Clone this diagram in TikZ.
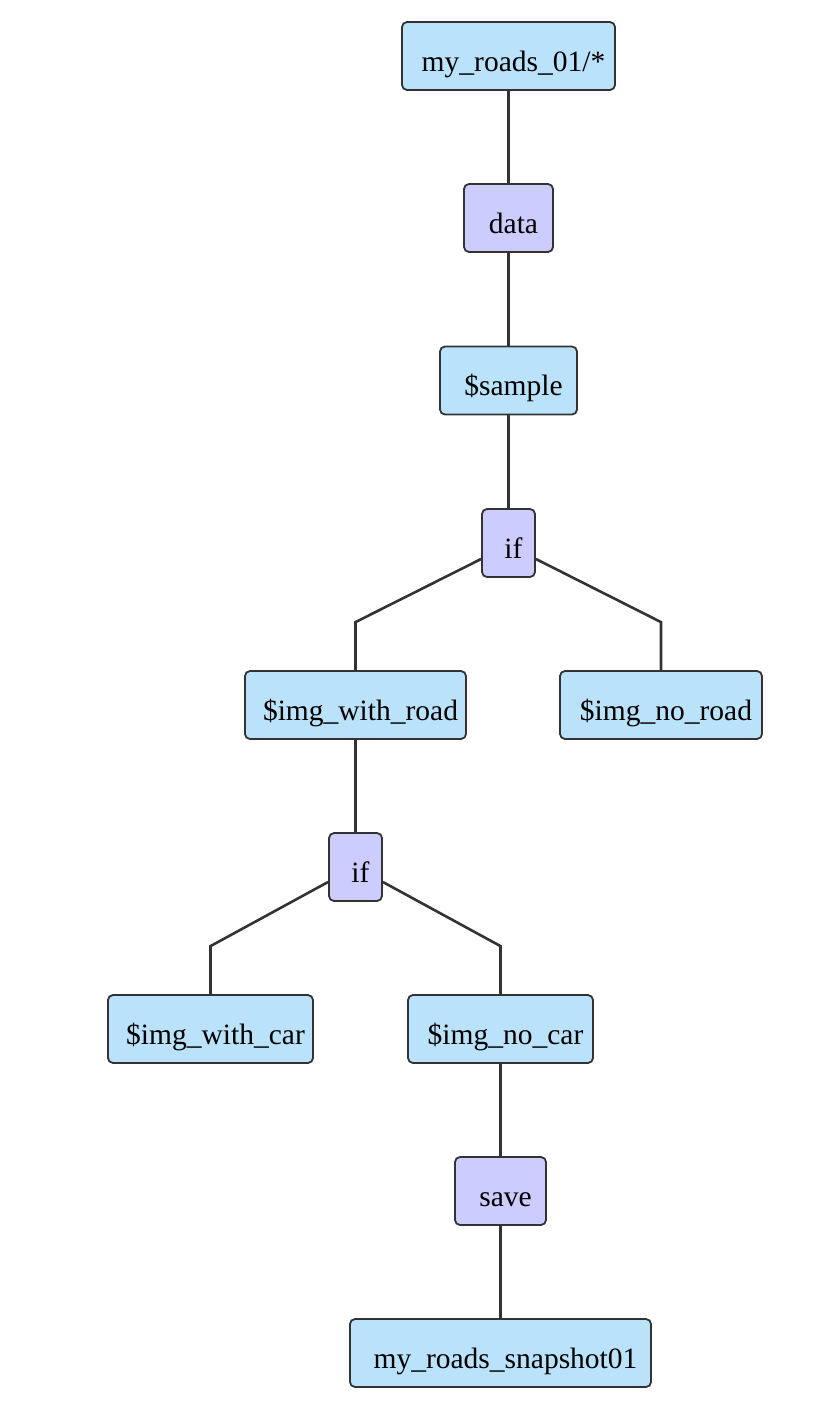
\documentclass[tikz,border=0pt]{standalone}
\usepackage{fontspec}
\setmainfont{Liberation Serif}
\usepackage{xcolor}
\definecolor{varblue}{RGB}{187,226,251}
\definecolor{oplilac}{RGB}{204,204,255}
\definecolor{edge}{RGB}{51,51,51}

\tikzset{
  box/.style={draw=edge, line width=1.8pt, rounded corners=5pt,
              minimum height=68pt, inner xsep=0pt, inner ysep=0pt,
              text height=30pt, text depth=0pt,
              font=\fontsize{29.5}{34}\selectfont,
              execute at begin node=\hspace*{10pt}},
  varbox/.style={box, fill=varblue},
  opbox/.style={box, fill=oplilac},
  link/.style={draw=edge, line width=2.6pt}
}

\begin{document}
\begin{tikzpicture}[x=1pt, y=-1pt]
  \useasboundingbox (0,0) rectangle (820,1422);

  % main chain
  \node[varbox, minimum width=213pt] (src)    at (508.5,56)   {my\_roads\_01/*};
  \node[opbox,  minimum width=89pt]  (data)   at (508.5,218)  {data};
  \node[varbox, minimum width=137pt] (sample) at (508.5,380.5){\$sample};
  \node[opbox,  minimum width=53pt]  (ifroad) at (508.5,543)  {if};

  % road split
  \node[varbox, minimum width=221pt] (withroad) at (355.5,705) {\$img\_with\_road};
  \node[varbox, minimum width=202pt] (noroad)   at (661,705)   {\$img\_no\_road};
  \node[opbox,  minimum width=53pt]  (ifcar)    at (355.5,867) {if};

  % car split
  \node[varbox, minimum width=205pt] (withcar) at (210.5,1029) {\$img\_with\_car};
  \node[varbox, minimum width=185pt] (nocar)   at (500.5,1029) {\$img\_no\_car};
  \node[opbox,  minimum width=91pt]  (save)    at (500.5,1191) {save};
  \node[varbox, minimum width=301pt] (snap)    at (500.5,1353) {my\_roads\_snapshot01};

  \draw[link] (src.south) -- (data.north);
  \draw[link] (data.south) -- (sample.north);
  \draw[link] (sample.south) -- (ifroad.north);
  \draw[link] ([yshift=-16pt]ifroad.west) -- ([yshift=48pt]withroad.north) -- (withroad.north);
  \draw[link] ([yshift=-16pt]ifroad.east) -- ([yshift=48pt]noroad.north) -- (noroad.north);
  \draw[link] (withroad.south) -- (ifcar.north);
  \draw[link] ([yshift=-15pt]ifcar.west) -- ([yshift=48pt]withcar.north) -- (withcar.north);
  \draw[link] ([yshift=-15pt]ifcar.east) -- ([yshift=48pt]nocar.north) -- (nocar.north);
  \draw[link] (nocar.south) -- (save.north);
  \draw[link] (save.south) -- (snap.north);
\end{tikzpicture}
\end{document}
